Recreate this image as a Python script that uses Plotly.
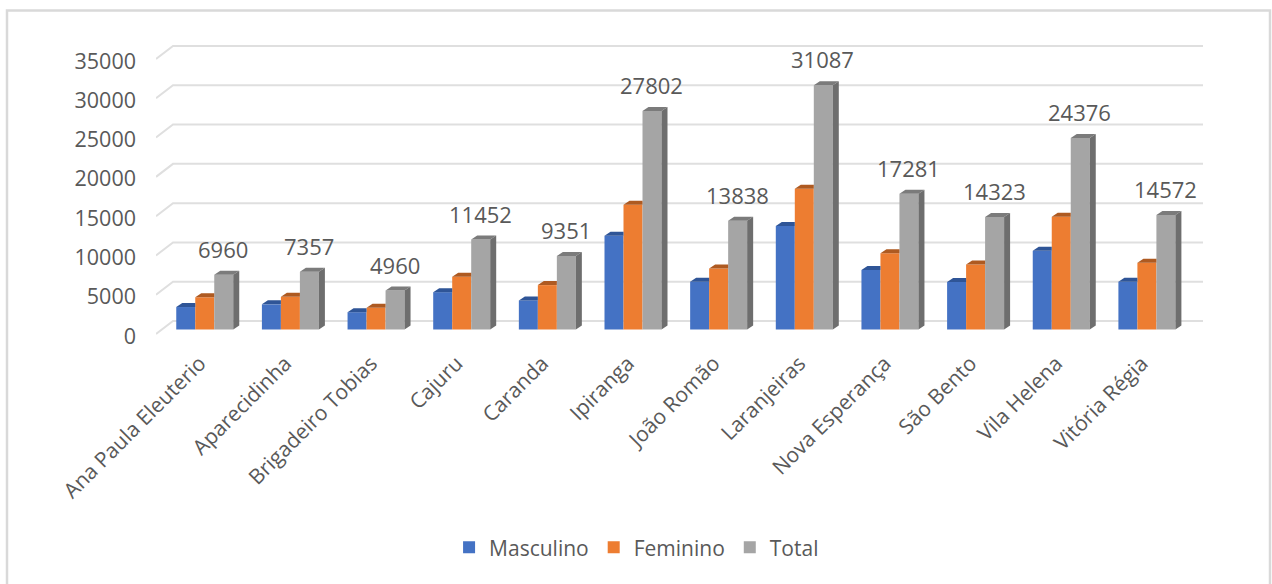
import plotly.graph_objects as go

categories = ["Ana Paula Eleuterio", "Aparecidinha", "Brigadeiro Tobias", "Cajuru", "Caranda", "Ipiranga",
              "João Romão", "Laranjeiras", "Nova Esperança", "São Bento", "Vila Helena", "Vitória Régia"]
masculino = [2860, 3200, 2200, 4750, 3700, 11940, 6085, 13170, 7570, 6050, 10030, 6085]
feminino = [4100, 4157, 2760, 6702, 5651, 15862, 7753, 17917, 9711, 8273, 14346, 8487]
total = [6960, 7357, 4960, 11452, 9351, 27802, 13838, 31087, 17281, 14323, 24376, 14572]
y_ticks = [0, 5000, 10000, 15000, 20000, 25000, 30000, 35000]

FONT = "Open Sans"
TXT = "#595959"
GRID = "#dfdfdf"
W, H = 1272, 584
L, R, T, B = 156, 1203, 30, 340      # plot area in pixels
PXX = 85.65                          # pixels per group
C0 = 204.75                          # pixel of first group centre
PXV = 35000 / 275                    # value per pixel
BAR = 19 / PXX
DX, DY = 6 / PXX, 4 * PXV            # bar depth
BACK_DX, BACK_DY = 17 / PXX, 15 * PXV  # wall depth (from the tick-label baseline)
FRONT_DY = 2 * PXV                   # front end of gridline sits above the tick label centre
xr = [(L - C0) / PXX, (R - C0) / PXX]

fig = go.Figure()

# walls / gridlines on the primary (front plane) axis
gx, gy = [], []
for v in y_ticks:
    gx += [xr[0], xr[0] + BACK_DX, xr[1], None]
    gy += [v + FRONT_DY, v + BACK_DY, v + BACK_DY, None]
fig.add_trace(go.Scatter(x=gx, y=gy, mode="lines", line=dict(color=GRID, width=2),
                         showlegend=False, hoverinfo="skip", yaxis="y"))

series = [("Masculino", masculino, "#4472C4", "#2F5597", -1),
          ("Feminino", feminino, "#ED7D31", "#AE5A21", 0),
          ("Total", total, "#A5A5A5", "#7B7B7B", 1)]
idx = list(range(len(categories)))
for name, vals, col, top, s in series:
    fig.add_trace(go.Bar(x=[i + s * BAR for i in idx], y=vals, width=BAR, name=name,
                         marker=dict(color=col, line=dict(width=0)), yaxis="y2"))
for name, vals, col, top, s in series:
    tx, ty = [], []
    for i, v in zip(idx, vals):
        a = i + s * BAR - BAR / 2
        b = a + BAR
        far = b + DX if s == 1 else b
        tx += [a, b, far, a + DX, a, None]
        ty += [v, v, v + DY, v + DY, v, None]
    fig.add_trace(go.Scatter(x=tx, y=ty, mode="lines", fill="toself", fillcolor=top, line=dict(width=0),
                             showlegend=False, hoverinfo="skip", yaxis="y2"))
    if s == 1:
        sx, sy = [], []
        for i, v in zip(idx, vals):
            b = i + s * BAR + BAR / 2
            sx += [b, b, b + DX, b + DX, b, None]
            sy += [0, v, v + DY, DY, 0, None]
        fig.add_trace(go.Scatter(x=sx, y=sy, mode="lines", fill="toself", fillcolor="#6E6E6E", line=dict(width=0),
                                 showlegend=False, hoverinfo="skip", yaxis="y2"))

for i, v in zip(idx, total):
    fig.add_annotation(x=i + BAR - 0.5 / PXX, y=v, xref="x", yref="y2", text=str(v), showarrow=False,
                       yanchor="middle", yshift=26, font=dict(family=FONT, size=22, color=TXT))

fig.add_shape(type="rect", xref="paper", yref="paper", layer="below",
              x0=(7 - L) / (R - L), x1=(1270 - L) / (R - L),
              y0=(B - 600) / (B - T), y1=(B - 10.5) / (B - T),
              line=dict(color="#d9d9d9", width=2.5), fillcolor="white")

fig.update_layout(
    width=W, height=H, margin=dict(l=L, r=W - R, t=T, b=H - B),
    paper_bgcolor="white", plot_bgcolor="rgba(0,0,0,0)",
    barmode="overlay", hovermode=False,
    font=dict(family=FONT, size=21, color=TXT),
    xaxis=dict(range=xr, tickmode="array", tickvals=idx, ticktext=categories, tickangle=-45,
               showgrid=False, zeroline=False, showline=False, ticks="",
               ticklabelshift=-5, ticklabelstandoff=6,
               tickfont=dict(family=FONT, size=21, color=TXT)),
    yaxis=dict(range=[(336 - B) * PXV, (336 - T) * PXV], tickmode="array", tickvals=y_ticks,
               ticktext=[str(v) for v in y_ticks], showgrid=False, zeroline=False, showline=False,
               ticks="", ticklabelstandoff=19, tickfont=dict(family=FONT, size=21.5, color=TXT)),
    yaxis2=dict(range=[(329.5 - B) * PXV, (329.5 - T) * PXV], overlaying="y", visible=False),
    legend=dict(orientation="h", x=0.459, xanchor="center", y=-0.67, yanchor="middle",
                font=dict(family=FONT, size=21, color=TXT), itemwidth=30, bgcolor="rgba(0,0,0,0)"),
)

fig.write_html("out.html", config=dict(displayModeBar=False), post_script="document.body.style.margin='0';")
